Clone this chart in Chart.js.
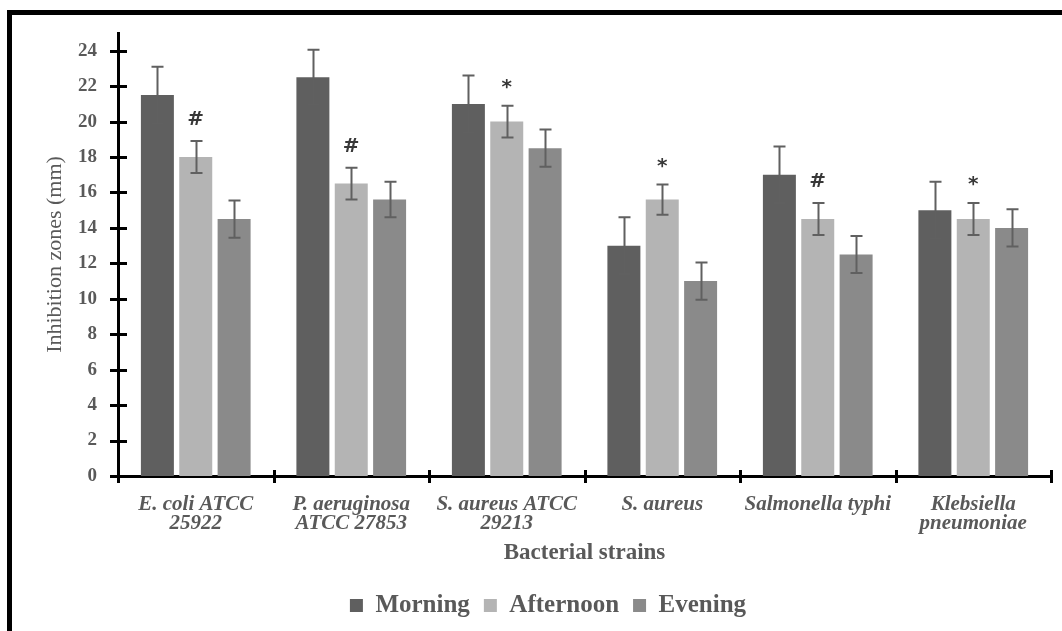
<!DOCTYPE html>
<html>
<head>
<meta charset="utf-8">
<script src="https://cdn.jsdelivr.net/npm/chart.js@4.4.1/dist/chart.umd.min.js"></script>
<style>
  html, body { margin: 0; padding: 0; background: #ffffff; }
  #wrap { width: 1062px; height: 631px; }
</style>
</head>
<body>
<div id="wrap"><canvas id="c" width="1062" height="631"></canvas></div>
<script>
const categories = [
  ['E. coli ATCC', '25922'],
  ['P. aeruginosa', 'ATCC 27853'],
  ['S. aureus ATCC', '29213'],
  'S. aureus',
  'Salmonella typhi',
  ['Klebsiella', 'pneumoniae']
];
const seriesNames = ['Morning', 'Afternoon', 'Evening'];
const morning = [21.5, 22.5, 21, 13, 17, 15];
const afternoon = [18, 16.5, 20, 15.6, 14.5, 14.5];
const evening = [14.5, 15.6, 18.5, 11, 12.5, 14];
const morningErr = [1.6, 1.55, 1.6, 1.6, 1.6, 1.6];
const afternoonErr = [0.9, 0.9, 0.9, 0.85, 0.9, 0.9];
const eveningErr = [1.05, 1.0, 1.05, 1.05, 1.05, 1.05];
const significance = ['#', '#', '*', '*', '#', '*'];
const yTicks = [0, 2, 4, 6, 8, 10, 12, 14, 16, 18, 20, 22, 24];

const textGrey = '#595959';
const serif = '"Liberation Serif", "DejaVu Serif", serif';

const errorsBySeries = [morningErr, afternoonErr, eveningErr];

const framePlugin = {
  id: 'frame',
  beforeDraw(chart) {
    const ctx = chart.ctx;
    ctx.save();
    ctx.fillStyle = '#ffffff';
    ctx.fillRect(0, 0, chart.width, chart.height);
    ctx.fillStyle = '#000000';
    ctx.fillRect(7, 10, 5, chart.height - 10);
    ctx.fillRect(7, 10, chart.width - 7, 5);
    ctx.restore();
  }
};

const axisTicksPlugin = {
  id: 'axisTicks',
  afterDraw(chart) {
    const ctx = chart.ctx;
    const xs = chart.scales.x, ys = chart.scales.y;
    ctx.save();
    ctx.strokeStyle = '#000000';
    ctx.lineWidth = 3;
    const ax = ys.right;
    ys.ticks.forEach(t => {
      const y = Math.round(ys.getPixelForValue(t.value)) + 0.5;
      ctx.beginPath();
      ctx.moveTo(ax - 8, y);
      ctx.lineTo(ax + 9, y);
      ctx.stroke();
    });
    const ay = xs.top;
    const w = xs.getPixelForValue(1) - xs.getPixelForValue(0);
    for (let i = 0; i <= categories.length; i++) {
      const x = Math.round(xs.getPixelForValue(0) - w / 2 + i * w) + 0.5;
      ctx.beginPath();
      ctx.moveTo(x, ay - 6);
      ctx.lineTo(x, ay + 7);
      ctx.stroke();
    }
    ctx.restore();
  }
};

const errorBarPlugin = {
  id: 'errorBars',
  afterDatasetsDraw(chart) {
    const ctx = chart.ctx;
    const ys = chart.scales.y;
    ctx.save();
    ctx.strokeStyle = '#606060';
    ctx.lineWidth = 2;
    chart.data.datasets.forEach((ds, di) => {
      const meta = chart.getDatasetMeta(di);
      const errs = errorsBySeries[di];
      meta.data.forEach((bar, i) => {
        const v = ds.data[i];
        const e = errs[i];
        const x = Math.round(bar.x) + 0.5;
        const yt = ys.getPixelForValue(v + e);
        const yb = ys.getPixelForValue(v - e);
        ctx.beginPath();
        ctx.moveTo(x, yt); ctx.lineTo(x, yb);
        ctx.moveTo(x - 6, yt); ctx.lineTo(x + 6, yt);
        ctx.moveTo(x - 6, yb); ctx.lineTo(x + 6, yb);
        ctx.stroke();
      });
    });
    // significance markers above Afternoon bars
    const meta = chart.getDatasetMeta(1);
    ctx.fillStyle = '#383838';
    ctx.textAlign = 'center';
    ctx.textBaseline = 'middle';
    meta.data.forEach((bar, i) => {
      const top = ys.getPixelForValue(afternoon[i] + afternoonErr[i]);
      const star = significance[i] === '*';
      ctx.font = 'bold ' + (star ? 20 : 20) + 'px "DejaVu Sans", sans-serif';
      ctx.fillText(significance[i], bar.x, top - (star ? 18 : 21));
    });
    ctx.restore();
  }
};

new Chart(document.getElementById('c'), {
  type: 'bar',
  data: {
    labels: categories,
    datasets: [
      { label: seriesNames[0], data: morning, backgroundColor: '#5f5f5f' },
      { label: seriesNames[1], data: afternoon, backgroundColor: '#b4b4b4' },
      { label: seriesNames[2], data: evening, backgroundColor: '#8a8a8a' }
    ]
  },
  options: {
    responsive: false,
    animation: false,
    devicePixelRatio: 1,
    categoryPercentage: 0.74,
    barPercentage: 0.86,
    layout: { padding: { left: 45, right: 11, top: 33, bottom: 3 } },
    plugins: {
      tooltip: { enabled: false },
      legend: {
        position: 'bottom',
        labels: {
          color: textGrey,
          font: { family: serif, size: 25, weight: 'bold' },
          boxWidth: 13,
          boxHeight: 13,
          padding: 14
        }
      }
    },
    scales: {
      x: {
        grid: { display: false },
        border: { display: true, color: '#000000', width: 3 },
        ticks: {
          color: textGrey,
          font: { family: serif, size: 21, weight: 'bold', style: 'italic', lineHeight: '19px' },
          padding: 11,
          autoSkip: false,
          maxRotation: 0,
          minRotation: 0
        },
        title: {
          display: true,
          text: 'Bacterial strains',
          color: textGrey,
          font: { family: serif, size: 23, weight: 'bold' },
          padding: { top: 0, bottom: 12 }
        },
        afterFit(scale) {
          const lh = scale.chart.legend ? scale.chart.legend.height : 0;
          scale.height = 631 - 3 - lh - 476;
        }
      },
      y: {
        min: 0,
        max: 25,
        grid: { display: false },
        border: { display: true, color: '#000000', width: 3 },
        afterBuildTicks(scale) {
          scale.ticks = yTicks.map(v => ({ value: v }));
        },
        ticks: {
          color: textGrey,
          font: { family: serif, size: 19, weight: 'bold' },
          padding: 13
        },
        title: {
          display: true,
          text: 'Inhibition zones (mm)',
          color: textGrey,
          font: { family: serif, size: 22 },
          padding: { top: -3, bottom: 0 }
        },
        afterFit(scale) {
          scale.width = 73;
        }
      }
    }
  },
  plugins: [framePlugin, axisTicksPlugin, errorBarPlugin]
});
</script>
</body>
</html>
